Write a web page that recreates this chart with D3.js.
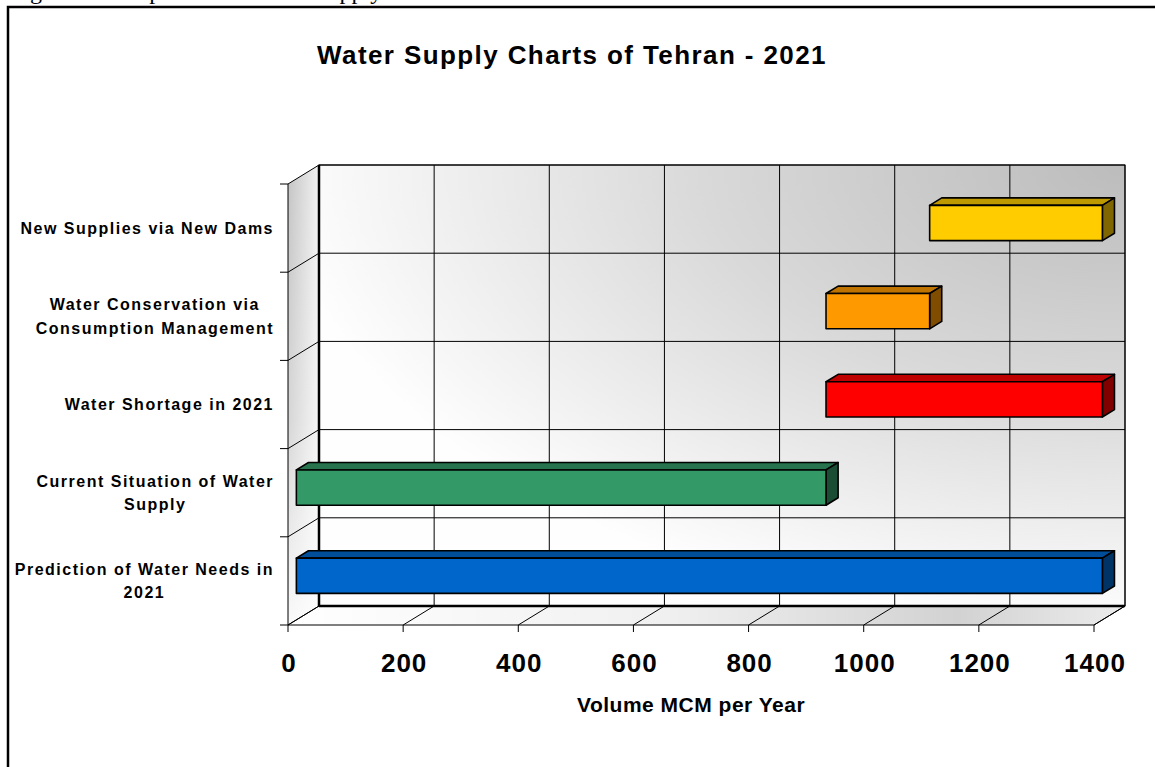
<!DOCTYPE html>
<html lang="en">
<head>
<meta charset="UTF-8">
<title>Water Supply Charts of Tehran - 2021</title>
<style>
  body { margin: 0; background: #fff; }
  text { font-family: Arial, "Liberation Sans", sans-serif; }
</style>
</head>
<body>
<div id="chart"></div>
<script src="https://cdn.jsdelivr.net/npm/d3@7/dist/d3.min.js"></script>
<script>
  // categories top to bottom, "\n" marks the line break of the label
  const CATEGORIES = [
    "New Supplies via New Dams",
    "Water Conservation via\nConsumption Management",
    "Water Shortage in 2021",
    "Current Situation of Water\nSupply",
    "Prediction of Water Needs in\n2021"
  ];
  // floating bars: start and end of each bar (MCM per year)
  const START_VALUES = [1100, 920, 920, 0, 0];
  const END_VALUES = [1400, 1100, 1400, 920, 1400];
  const X_TICKS = [0, 200, 400, 600, 800, 1000, 1200, 1400];

  const COLORS = ["#ffcc00", "#ff9900", "#ff0000", "#339966", "#0066cc"];

  const W = 1155, H = 767;
  const DX = 31, DY = 19;          // 3d depth offset of the plot box
  const BAR_D0 = 0.27, BAR_D1 = 0.66;  // bar depth inside the box

  const svg = d3.select("#chart").append("svg")
    .attr("width", W)
    .attr("height", H);

  const defs = svg.append("defs");

  const wallGrad = defs.append("radialGradient")
    .attr("id", "wallGrad")
    .attr("cx", 1).attr("cy", 0).attr("r", 1.05)
    .attr("fx", 1).attr("fy", 0);
  wallGrad.append("stop").attr("offset", 0).attr("stop-color", "#bcbcbc");
  wallGrad.append("stop").attr("offset", 0.5).attr("stop-color", "#d9d9d9");
  wallGrad.append("stop").attr("offset", 1).attr("stop-color", "#fefefe");

  const sideGrad = defs.append("linearGradient")
    .attr("id", "sideGrad")
    .attr("x1", 0).attr("y1", 0).attr("x2", 1).attr("y2", 0);
  sideGrad.append("stop").attr("offset", 0).attr("stop-color", "#c4c4c4");
  sideGrad.append("stop").attr("offset", 1).attr("stop-color", "#f2f2f2");

  const sideFade = defs.append("linearGradient")
    .attr("id", "sideFade")
    .attr("x1", 0).attr("y1", 0).attr("x2", 0).attr("y2", 1);
  sideFade.append("stop").attr("offset", 0).attr("stop-color", "#fff").attr("stop-opacity", 0);
  sideFade.append("stop").attr("offset", 0.55).attr("stop-color", "#fff").attr("stop-opacity", 0.3);
  sideFade.append("stop").attr("offset", 1).attr("stop-color", "#fff").attr("stop-opacity", 0.9);

  const floorGrad = defs.append("linearGradient")
    .attr("id", "floorGrad")
    .attr("x1", 0).attr("y1", 0).attr("x2", 1).attr("y2", 0);
  floorGrad.append("stop").attr("offset", 0).attr("stop-color", "#ffffff");
  floorGrad.append("stop").attr("offset", 0.45).attr("stop-color", "#f0f0f0");
  floorGrad.append("stop").attr("offset", 0.8).attr("stop-color", "#d2d2d2");
  floorGrad.append("stop").attr("offset", 1).attr("stop-color", "#ececec");

  // caption line of the document above the chart, cut by the page edge
  svg.append("text")
    .attr("x", 10)
    .attr("y", -1)
    .style("font-family", "'Liberation Serif', 'Times New Roman', serif")
    .style("font-size", "24px")
    .text("Figure 2. Comparison of Water Supply");

  // chart frame
  svg.append("rect")
    .attr("x", 8).attr("y", 7)
    .attr("width", 1170).attr("height", 790)
    .attr("fill", "none")
    .attr("stroke", "#000")
    .attr("stroke-width", 2.5);

  svg.append("text")
    .attr("x", 572)
    .attr("y", 64)
    .attr("text-anchor", "middle")
    .style("font-size", "26px")
    .style("font-weight", "bold")
    .style("letter-spacing", "1.4px")
    .text("Water Supply Charts of Tehran - 2021");

  const x = d3.scaleLinear().domain([0, 1400]).range([288, 1094]);
  const y = d3.scaleBand().domain(CATEGORIES).range([184, 625]);

  const x0 = x.range()[0], x1 = x.range()[1];
  const yTop = y.range()[0], yBot = y.range()[1];
  const bounds = CATEGORIES.map(c => y(c)).concat([yBot]);

  const line = d3.line();

  // side wall
  const sidePts = [[x0, yTop], [x0 + DX, yTop - DY], [x0 + DX, yBot - DY], [x0, yBot]];
  svg.append("path").attr("d", line(sidePts) + "Z").attr("fill", "url(#sideGrad)");
  svg.append("path").attr("d", line(sidePts) + "Z").attr("fill", "url(#sideFade)");

  // floor
  svg.append("path")
    .attr("d", line([[x0, yBot], [x0 + DX, yBot - DY], [x1 + DX, yBot - DY], [x1, yBot]]) + "Z")
    .attr("fill", "url(#floorGrad)");

  // back wall
  svg.append("rect")
    .attr("x", x0 + DX).attr("y", yTop - DY)
    .attr("width", x1 - x0).attr("height", yBot - yTop)
    .attr("fill", "url(#wallGrad)")
    .attr("stroke", "#000")
    .attr("stroke-width", 1);

  const grid = svg.append("g").attr("stroke", "#000").attr("stroke-width", 1).attr("fill", "none");

  // vertical gridlines on the wall + floor diagonals + ticks
  X_TICKS.forEach(t => {
    const xx = x(t);
    grid.append("line")
      .attr("x1", xx + DX).attr("x2", xx + DX)
      .attr("y1", yTop - DY).attr("y2", yBot - DY);
    grid.append("line")
      .attr("x1", xx).attr("y1", yBot)
      .attr("x2", xx + DX).attr("y2", yBot - DY);
    grid.append("line")
      .attr("x1", xx).attr("x2", xx)
      .attr("y1", yBot).attr("y2", yBot + 7);
  });

  // horizontal gridlines + side wall diagonals + ticks
  bounds.forEach(b => {
    grid.append("line")
      .attr("x1", x0 + DX).attr("x2", x1 + DX)
      .attr("y1", b - DY).attr("y2", b - DY);
    grid.append("line")
      .attr("x1", x0).attr("y1", b)
      .attr("x2", x0 + DX).attr("y2", b - DY);
    grid.append("line")
      .attr("x1", x0 - 8).attr("x2", x0)
      .attr("y1", b).attr("y2", b);
  });

  // box edges
  grid.append("line")
    .attr("x1", x0).attr("x2", x0).attr("y1", yTop).attr("y2", yBot);
  grid.append("line")
    .attr("x1", x0).attr("x2", x1).attr("y1", yBot).attr("y2", yBot);
  grid.append("line")
    .attr("x1", x1).attr("y1", yBot).attr("x2", x1 + DX).attr("y2", yBot - DY);
  grid.append("line")
    .attr("x1", x0 + DX).attr("x2", x0 + DX)
    .attr("y1", yTop - DY).attr("y2", yBot - DY)
    .attr("stroke-width", 2.5);
  grid.append("line")
    .attr("x1", x0 + DX).attr("x2", x1 + DX)
    .attr("y1", yBot - DY).attr("y2", yBot - DY)
    .attr("stroke-width", 2.5);

  // bars
  const shade = (c, k) => {
    const col = d3.rgb(c);
    return d3.rgb(col.r * k, col.g * k, col.b * k).formatHex();
  };
  const ddx = DX * (BAR_D1 - BAR_D0), ddy = DY * (BAR_D1 - BAR_D0);

  const bars = svg.append("g")
    .attr("stroke", "#000")
    .attr("stroke-width", 1.6)
    .attr("stroke-linejoin", "round");

  CATEGORIES.forEach((cat, i) => {
    const h = y.bandwidth() * 0.4;
    const yc = y(cat) + y.bandwidth() / 2;
    const bx0 = x(START_VALUES[i]) + DX * BAR_D0;
    const bx1 = x(END_VALUES[i]) + DX * BAR_D0;
    const top = yc - h / 2 - DY * BAR_D0;
    const bot = top + h;

    bars.append("path")
      .attr("d", line([[bx0, top], [bx1, top], [bx1 + ddx, top - ddy], [bx0 + ddx, top - ddy]]) + "Z")
      .attr("fill", shade(COLORS[i], 0.75));
    bars.append("path")
      .attr("d", line([[bx1, top], [bx1 + ddx, top - ddy], [bx1 + ddx, bot - ddy], [bx1, bot]]) + "Z")
      .attr("fill", shade(COLORS[i], 0.5));
    bars.append("rect")
      .attr("x", bx0).attr("y", top)
      .attr("width", bx1 - bx0).attr("height", h)
      .attr("fill", COLORS[i]);
  });

  // category labels: block right aligned, lines centred in the block
  CATEGORIES.forEach(cat => {
    const lines = cat.split("\n");
    const yc = y(cat) + y.bandwidth() / 2;
    const lh = 23.5;
    const g = svg.append("g");
    const texts = lines.map((ln, j) => g.append("text")
      .attr("y", yc + (j - (lines.length - 1) / 2) * lh + 5.7)
      .attr("text-anchor", "middle")
      .style("font-size", "16px")
      .style("font-weight", "bold")
      .style("letter-spacing", "1.5px")
      .text(ln));
    const maxW = d3.max(texts, t => t.node().getComputedTextLength());
    texts.forEach(t => t.attr("x", 274 - maxW / 2));
  });

  // x tick labels
  svg.append("g")
    .selectAll("text")
    .data(X_TICKS)
    .join("text")
    .attr("x", d => x(d) + 1)
    .attr("y", 672)
    .attr("text-anchor", "middle")
    .style("font-size", "26px")
    .style("font-weight", "bold")
    .style("letter-spacing", "1px")
    .text(d => d);

  svg.append("text")
    .attr("x", (x0 + x1) / 2)
    .attr("y", 712)
    .attr("text-anchor", "middle")
    .style("font-size", "21px")
    .style("font-weight", "bold")
    .style("letter-spacing", "0.5px")
    .text("Volume MCM per Year");
</script>
</body>
</html>
